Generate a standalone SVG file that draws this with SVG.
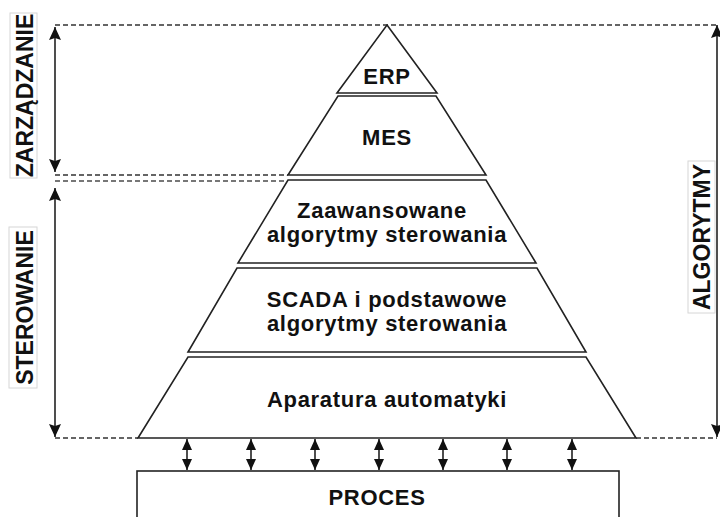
<svg xmlns="http://www.w3.org/2000/svg" width="720" height="517" viewBox="0 0 720 517">
  <style>
    .layer { fill: #ffffff; stroke: #222222; stroke-width: 1.6; stroke-linejoin: miter; }
    .txt { font-family: "Liberation Sans", Arial, sans-serif; font-weight: bold; font-size: 22px; letter-spacing: 0.7px; fill: #111111; text-anchor: middle; }
    .side { font-family: "Liberation Sans", Arial, sans-serif; font-weight: bold; font-size: 23px; fill: #111111; text-anchor: middle; }
    .tag { fill: #ffffff; stroke: #d6d6d6; stroke-width: 1; }
    .dash { stroke: #333333; stroke-width: 1.4; stroke-dasharray: 5 3; fill: none; }
    .dash2 { stroke: #777777; stroke-width: 2; stroke-dasharray: 5 3; fill: none; }
    .arr { stroke: #222222; stroke-width: 1.6; fill: none; marker-start: url(#head); marker-end: url(#head); }
    .arrS { stroke: #222222; stroke-width: 1.6; fill: none; marker-start: url(#headS); marker-end: url(#headS); }
  </style>
  <defs>
    <marker id="head" markerUnits="userSpaceOnUse" markerWidth="13" markerHeight="12" refX="13" refY="6" orient="auto-start-reverse">
      <path d="M0,0 L13,6 L0,12 L2,6 z" fill="#111111"/>
    </marker>
    <marker id="headS" markerUnits="userSpaceOnUse" markerWidth="11" markerHeight="10" refX="11" refY="5" orient="auto-start-reverse">
      <path d="M0,0 L11,5 L0,10 z" fill="#111111"/>
    </marker>
  </defs>

  <!-- guide lines marking level boundaries -->
  <g id="guides">
    <line class="dash" x1="55" y1="25" x2="717" y2="25"/>
    <line class="dash" x1="55" y1="175" x2="288" y2="175"/>
    <line class="dash2" x1="55" y1="181" x2="288" y2="181"/>
    <line class="dash" x1="55" y1="438" x2="138" y2="438"/>
    <line class="dash" x1="636" y1="438" x2="717" y2="438"/>
  </g>

  <!-- pyramid levels -->
  <g id="erp">
    <polygon class="layer" points="387,25 437,93 337,93"/>
    <text class="txt" x="387" y="84">ERP</text>
  </g>
  <g id="mes">
    <polygon class="layer" points="338,96 436,96 486,175 288,175"/>
    <text class="txt" x="387" y="145">MES</text>
  </g>
  <g id="advanced">
    <polygon class="layer" points="288,180 486,180 536,263 238,263"/>
    <text class="txt" x="382" y="218">Zaawansowane</text>
    <text class="txt" x="387" y="242">algorytmy sterowania</text>
  </g>
  <g id="scada">
    <polygon class="layer" points="237,268 537,268 586,352 188,352"/>
    <text class="txt" x="387" y="307">SCADA i podstawowe</text>
    <text class="txt" x="387" y="331">algorytmy sterowania</text>
  </g>
  <g id="devices">
    <polygon class="layer" points="188,357 586,357 636,438 138,438"/>
    <text class="txt" x="387" y="407">Aparatura automatyki</text>
  </g>
  <g id="process">
    <rect class="layer" x="137" y="471" width="482" height="60"/>
    <text class="txt" x="377" y="505">PROCES</text>
  </g>

  <!-- range arrows and links to the process -->
  <g id="connectors">
    <line class="arr" x1="55" y1="27" x2="55" y2="172"/>
    <line class="arr" x1="55" y1="188" x2="55" y2="437"/>
    <line class="arr" x1="717" y1="25" x2="717" y2="437"/>
    <line class="arrS" x1="187" y1="439" x2="187" y2="470"/>
    <line class="arrS" x1="251" y1="439" x2="251" y2="470"/>
    <line class="arrS" x1="315" y1="439" x2="315" y2="470"/>
    <line class="arrS" x1="379" y1="439" x2="379" y2="470"/>
    <line class="arrS" x1="443" y1="439" x2="443" y2="470"/>
    <line class="arrS" x1="507" y1="439" x2="507" y2="470"/>
    <line class="arrS" x1="572" y1="439" x2="572" y2="470"/>
  </g>

  <!-- side labels -->
  <g id="label-zarzadzanie">
    <rect class="tag" x="10" y="13" width="27" height="165"/>
    <text class="side" transform="translate(33,95.5) rotate(-90)">ZARZĄDZANIE</text>
  </g>
  <g id="label-sterowanie">
    <rect class="tag" x="9" y="227" width="28" height="161"/>
    <text class="side" transform="translate(33,307.5) rotate(-90)">STEROWANIE</text>
  </g>
  <g id="label-algorytmy">
    <rect class="tag" x="688" y="161" width="27" height="152"/>
    <text class="side" transform="translate(710,237) rotate(-90)">ALGORYTMY</text>
  </g>
</svg>
